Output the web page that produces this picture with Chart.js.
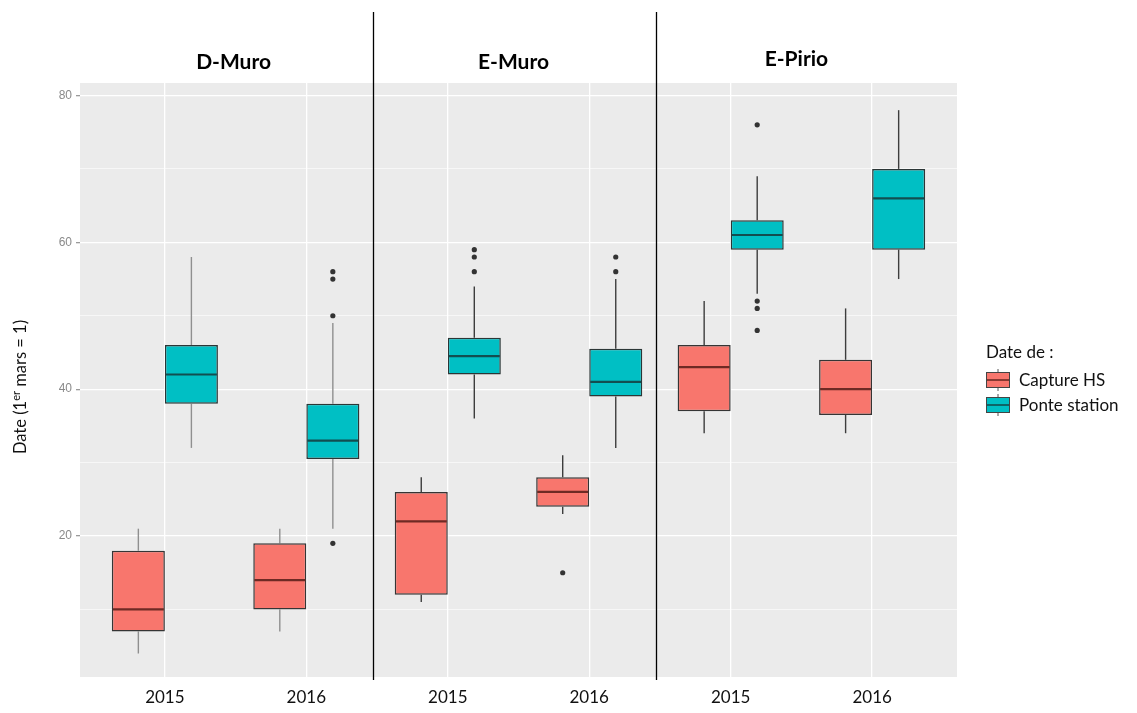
<!DOCTYPE html>
<html>
<head>
<meta charset="utf-8">
<title>Dates de capture et de ponte</title>
<script src="https://cdn.jsdelivr.net/npm/chart.js@4.4.1/dist/chart.umd.min.js"></script>
<style>
    html, body { margin: 0; padding: 0; background: #fff; }
    canvas { display: block; }
</style>
</head>
<body>
<canvas id="boxChart" width="1137" height="713"></canvas>
<script>
// Categories: year per site (3 sites x 2 years)
const sites = ['D-Muro', 'E-Muro', 'E-Pirio'];
const categories = ['2015', '2016', '2015', '2016', '2015', '2016'];
const yTicks = [10, 20, 30, 40, 50, 60, 70, 80];

// Capture HS
const captureLow = [4, 7, 11, 23, 34, 34];
const captureQ1 = [7, 10, 12, 24, 37, 36.5];
const captureMedian = [10, 14, 22, 26, 43, 40];
const captureQ3 = [18, 19, 26, 28, 46, 44];
const captureHigh = [21, 21, 28, 31, 52, 51];
const captureOutliers = [[], [], [], [15], [], []];

// Ponte station
const ponteLow = [32, 21, 36, 32, 53, 55];
const ponteQ1 = [38, 30.5, 42, 39, 59, 59];
const ponteMedian = [42, 33, 44.5, 41, 61, 66];
const ponteQ3 = [46, 38, 47, 45.5, 63, 70];
const ponteHigh = [58, 49, 54, 55, 69, 78];
const ponteOutliers = [[], [19, 50, 55, 56], [56, 58, 59], [56, 58], [48, 51, 52, 76], []];

const RED = '#F8766D';
const TEAL = '#00BFC4';
const whiskerColors = ['#8f8f8f', '#8f8f8f', '#3d3d3d', '#3d3d3d', '#3d3d3d', '#3d3d3d'];
const medianColors = ['#6e2a24', '#124e50'];
const CALIBRI = 'Lato, "Open Sans", sans-serif';

const series = [
    { low: captureLow, median: captureMedian, high: captureHigh, outliers: captureOutliers },
    { low: ponteLow, median: ponteMedian, high: ponteHigh, outliers: ponteOutliers }
];

function line(ctx, x1, y1, x2, y2) {
    ctx.beginPath();
    ctx.moveTo(x1, y1);
    ctx.lineTo(x2, y2);
    ctx.stroke();
}

const boxExtras = {
    id: 'boxExtras',
    beforeDraw(chart) {
        const { ctx, chartArea: a } = chart;
        ctx.save();
        ctx.fillStyle = '#EBEBEB';
        ctx.fillRect(a.left, a.top, a.right - a.left, a.bottom - a.top);
        ctx.restore();
    },
    beforeDatasetsDraw(chart) {
        // whiskers under the boxes
        const { ctx } = chart;
        const y = chart.scales.y;
        ctx.save();
        ctx.lineWidth = 1.4;
        series.forEach((s, di) => {
            const meta = chart.getDatasetMeta(di);
            const ds = chart.data.datasets[di];
            meta.data.forEach((bar, j) => {
                const [q1, q3] = ds.data[j].y;
                ctx.strokeStyle = whiskerColors[j];
                line(ctx, bar.x, y.getPixelForValue(s.low[j]), bar.x, y.getPixelForValue(q1));
                line(ctx, bar.x, y.getPixelForValue(q3), bar.x, y.getPixelForValue(s.high[j]));
            });
        });
        ctx.restore();
    },
    afterDatasetsDraw(chart) {
        const { ctx, chartArea: a } = chart;
        const x = chart.scales.x;
        const y = chart.scales.y;
        ctx.save();

        // medians and outliers
        series.forEach((s, di) => {
            const meta = chart.getDatasetMeta(di);
            meta.data.forEach((bar, j) => {
                const ym = y.getPixelForValue(s.median[j]);
                ctx.strokeStyle = medianColors[di];
                ctx.lineWidth = 2.2;
                line(ctx, bar.x - bar.width / 2 + 1, ym, bar.x + bar.width / 2 - 1, ym);
                ctx.fillStyle = '#333';
                s.outliers[j].forEach(v => {
                    ctx.beginPath();
                    ctx.arc(bar.x, y.getPixelForValue(v), 2.6, 0, Math.PI * 2);
                    ctx.fill();
                });
            });
        });

        // site separators
        ctx.strokeStyle = '#000';
        ctx.lineWidth = 1.3;
        [1.5, 3.5].forEach(v => {
            const px = Math.round(x.getPixelForValue(v)) - 3.5;
            line(ctx, px, 12, px, a.bottom + 3);
        });

        // site headers
        ctx.fillStyle = '#000';
        ctx.font = 'bold 21px ' + CALIBRI;
        ctx.textAlign = 'center';
        ctx.textBaseline = 'middle';
        const headerY = [62, 62, 59];
        const headerShift = [-2, -5, -5];
        sites.forEach((name, k) => {
            const cx = (x.getPixelForValue(2 * k) + x.getPixelForValue(2 * k + 1)) / 2 + headerShift[k];
            ctx.fillText(name, cx, headerY[k]);
        });

        // y axis title with superscript
        ctx.save();
        ctx.translate(21, 387);
        ctx.rotate(-Math.PI / 2);
        ctx.fillStyle = '#111';
        const big = '16.5px ' + CALIBRI;
        const small = '11px ' + CALIBRI;
        const parts = [['Date (1', big, 0], ['er', small, -5], [' mars = 1)', big, 0]];
        let total = 0;
        parts.forEach(p => { ctx.font = p[1]; total += ctx.measureText(p[0]).width; });
        let cx = -total / 2;
        ctx.textAlign = 'left';
        parts.forEach(p => {
            ctx.font = p[1];
            ctx.fillText(p[0], cx, p[2]);
            cx += ctx.measureText(p[0]).width;
        });
        ctx.restore();

        // legend
        ctx.textAlign = 'left';
        ctx.fillStyle = '#111';
        ctx.font = '17px ' + CALIBRI;
        ctx.fillText('Date de :', 986, 353);
        const keys = [['Capture HS', RED, 0], ['Ponte station', TEAL, 1]];
        keys.forEach(([label, color, k], i) => {
            const top = 370 + i * 25;
            const kx = 986, kw = 24, kh = 20;
            ctx.strokeStyle = '#555';
            ctx.lineWidth = 1;
            line(ctx, kx + kw / 2, top - 1, kx + kw / 2, top + kh + 1);
            ctx.fillStyle = color;
            ctx.fillRect(kx, top + 2, kw, kh - 4);
            ctx.strokeStyle = '#444';
            ctx.strokeRect(kx + 0.5, top + 2.5, kw - 1, kh - 5);
            ctx.strokeStyle = medianColors[k];
            ctx.lineWidth = 1.6;
            line(ctx, kx + 1, top + kh / 2, kx + kw - 1, top + kh / 2);
            ctx.fillStyle = '#111';
            ctx.fillText(label, 1019, top + kh / 2 + 1);
        });

        ctx.restore();
    }
};

function initBoxChart() {
    const ctx = document.getElementById('boxChart').getContext('2d');

    const boxData = (q1s, q3s) => categories.map((c, i) => ({ x: i, y: [q1s[i], q3s[i]] }));

    new Chart(ctx, {
        type: 'bar',
        data: {
            datasets: [{
                label: 'Capture HS',
                data: boxData(captureQ1, captureQ3),
                backgroundColor: RED,
                borderColor: '#353535',
                borderWidth: 1.5,
                borderSkipped: false,
                barPercentage: 1,
                categoryPercentage: 0.75
            }, {
                label: 'Ponte station',
                data: boxData(ponteQ1, ponteQ3),
                backgroundColor: TEAL,
                borderColor: '#2b3636',
                borderWidth: 1.5,
                borderSkipped: false,
                barPercentage: 1,
                categoryPercentage: 0.75
            }]
        },
        options: {
            responsive: false,
            animation: false,
            layout: { padding: { top: 83, right: 180, bottom: 0, left: 0 } },
            plugins: {
                legend: { display: false },
                tooltip: { enabled: false }
            },
            scales: {
                x: {
                    type: 'linear',
                    min: -0.6,
                    max: 5.6,
                    offset: false,
                    afterBuildTicks: scale => { scale.ticks = categories.map((c, i) => ({ value: i })); },
                    afterFit: scale => { scale.height = 36; },
                    ticks: {
                        callback: v => categories[v],
                        autoSkip: false,
                        maxRotation: 0,
                        padding: 10,
                        color: '#111',
                        font: { family: CALIBRI, size: 17 }
                    },
                    grid: { color: '#ffffff', lineWidth: 1.3, drawTicks: false, offset: false },
                    border: { display: false }
                },
                y: {
                    min: 0.8,
                    max: 81.7,
                    afterBuildTicks: scale => { scale.ticks = yTicks.map(v => ({ value: v })); },
                    afterFit: scale => { scale.width = 80; },
                    ticks: {
                        callback: v => (v % 20 === 0 ? v : ''),
                        padding: 4,
                        color: '#8a8a8a',
                        font: { family: 'Liberation Sans, Arial, sans-serif', size: 12 }
                    },
                    grid: {
                        color: '#ffffff',
                        lineWidth: c => (c.tick && c.tick.value % 20 === 0 ? 1.3 : 0.6),
                        tickLength: 4,
                        tickColor: c => (c.tick && c.tick.value % 20 === 0 ? '#9a9a9a' : 'rgba(0,0,0,0)')
                    },
                    border: { display: false }
                }
            }
        },
        plugins: [boxExtras]
    });
}

document.addEventListener('DOMContentLoaded', initBoxChart);
</script>
</body>
</html>
